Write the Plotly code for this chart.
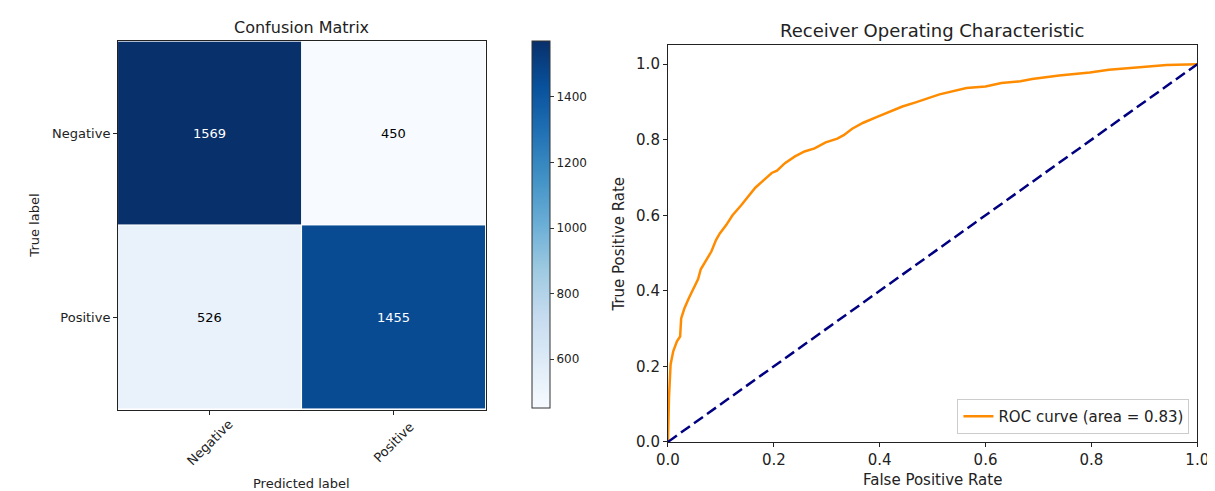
import plotly.graph_objects as go

W, H = 1215, 491

# ---- data ----
class_labels = ["Negative", "Positive"]
cm_values = [[1569, 450],
             [526, 1455]]
colorbar_ticks = [600, 800, 1000, 1200, 1400]

fpr = [0.0, 0.002, 0.005, 0.010, 0.017, 0.023, 0.025, 0.031, 0.039, 0.048, 0.057,
       0.062, 0.073, 0.082, 0.091, 0.098, 0.110, 0.122, 0.138, 0.150, 0.165,
       0.181, 0.196, 0.206, 0.221, 0.240, 0.258, 0.277, 0.298, 0.320, 0.332,
       0.348, 0.369, 0.394, 0.419, 0.443, 0.468, 0.493, 0.513, 0.564, 0.600,
       0.630, 0.666, 0.688, 0.739, 0.797, 0.833, 0.891, 0.942, 1.0]
tpr = [0.0, 0.119, 0.205, 0.240, 0.266, 0.279, 0.327, 0.353, 0.379, 0.405, 0.431,
       0.457, 0.483, 0.504, 0.535, 0.552, 0.574, 0.600, 0.626, 0.647, 0.673,
       0.693, 0.712, 0.718, 0.738, 0.756, 0.769, 0.777, 0.793, 0.803, 0.812,
       0.829, 0.845, 0.860, 0.874, 0.888, 0.899, 0.911, 0.920, 0.937, 0.941,
       0.950, 0.955, 0.961, 0.970, 0.978, 0.985, 0.992, 0.998, 1.0]
chance_x = [0.0, 1.0]
chance_y = [0.0, 1.0]
roc_auc = 0.83
roc_ticks = [0.0, 0.2, 0.4, 0.6, 0.8, 1.0]

blues = ["#f7fbff", "#deebf7", "#c6dbef", "#9ecae1", "#6baed6",
         "#4292c6", "#2171b5", "#08519c", "#08306b"]
colorscale = [[i / (len(blues) - 1), c] for i, c in enumerate(blues)]

FONT = "DejaVu Sans"
TXT = "#222"

def px(x):
    return x / W

def py(y):
    return 1 - y / H

fig = go.Figure()

zmin = min(min(r) for r in cm_values)
zmax = max(max(r) for r in cm_values)

fig.add_trace(go.Heatmap(
    z=cm_values, x=[0, 1], y=[0, 1],
    colorscale=colorscale, zmin=zmin, zmax=zmax,
    xgap=1, ygap=1,
    xaxis="x", yaxis="y",
    colorbar=dict(
        x=px(522), xanchor="left", xpad=0,
        y=py((34 + 408) / 2), yanchor="middle", ypad=0,
        len=374 / H, lenmode="fraction", thickness=18,
        outlinewidth=1, outlinecolor="#333",
        ticks="outside", ticklen=4, tickcolor="#333",
        tickvals=colorbar_ticks,
        tickfont=dict(family=FONT, size=12, color=TXT),
    ),
    hoverinfo="skip",
))

fig.add_trace(go.Scatter(
    x=fpr, y=tpr, mode="lines", xaxis="x2", yaxis="y2",
    line=dict(color="darkorange", width=2.5),
    name="ROC curve (area = %0.2f)" % roc_auc,
))
fig.add_trace(go.Scatter(
    x=chance_x, y=chance_y, mode="lines", xaxis="x2", yaxis="y2",
    line=dict(color="navy", width=2.5, dash="11px,5px"),
    showlegend=False,
))

def axis_common(size):
    return dict(showline=True, linecolor="#222", linewidth=1, mirror=True,
                ticks="outside", ticklen=4, tickcolor="#222",
                showgrid=False, zeroline=False,
                tickfont=dict(family=FONT, size=size, color=TXT))

fig.update_layout(
    width=W, height=H,
    margin=dict(l=0, r=0, t=0, b=0),
    paper_bgcolor="white", plot_bgcolor="white",
    font=dict(family=FONT, color=TXT),
    xaxis=dict(domain=[px(100), px(475)], range=[-0.5, 1.5],
               tickvals=[0, 1], showticklabels=False, anchor="y", **axis_common(13)),
    yaxis=dict(domain=[py(409), py(34)], range=[1.5, -0.5],
               tickvals=[0, 1], ticktext=class_labels, anchor="x", **axis_common(13)),
    xaxis2=dict(domain=[px(661), px(1201)], range=[0, 1],
                tickvals=roc_ticks, tickformat=".1f", anchor="y2", **axis_common(15)),
    yaxis2=dict(domain=[py(442), py(38)], range=[0, 1.05],
                tickvals=roc_ticks, tickformat=".1f", anchor="x2", **axis_common(15)),
    legend=dict(x=px(1193), xanchor="right", y=py(434), yanchor="bottom",
                bgcolor="rgba(255,255,255,0.8)", bordercolor="#ccc", borderwidth=1,
                itemwidth=30,
                font=dict(family=FONT, size=15, color=TXT)),
    showlegend=True,
)

ann = []
# cell texts
thresh = zmax / 2.0
for i, row in enumerate(cm_values):
    for j, v in enumerate(row):
        ann.append(dict(x=j, y=i, xref="x", yref="y", text=str(v), showarrow=False,
                        font=dict(family=FONT, size=13,
                                  color="white" if v > thresh else "black")))
# rotated x tick labels
for j, lab in enumerate(class_labels):
    ann.append(dict(x=j, y=py(443), xref="x", yref="paper", text=lab, showarrow=False,
                    textangle=-45, xanchor="center", yanchor="middle",
                    font=dict(family=FONT, size=13, color=TXT)))

def label(text, x, y, size=13, angle=0):
    return dict(x=px(x), y=py(y), xref="paper", yref="paper", text=text,
                showarrow=False, textangle=angle, xanchor="center", yanchor="middle",
                font=dict(family=FONT, size=size, color=TXT))

ann += [
    label("Confusion Matrix", 287.5, 20, 16),
    label("Predicted label", 287.5, 484, 13),
    label("True label", 15, 222, 13, -90),
    label("Receiver Operating Characteristic", 931, 23, 18),
    label("False Positive Rate", 931, 481, 15),
    label("True Positive Rate", 611, 240, 15, -90),
]
fig.update_layout(annotations=ann)

fig.write_html("out.html")
